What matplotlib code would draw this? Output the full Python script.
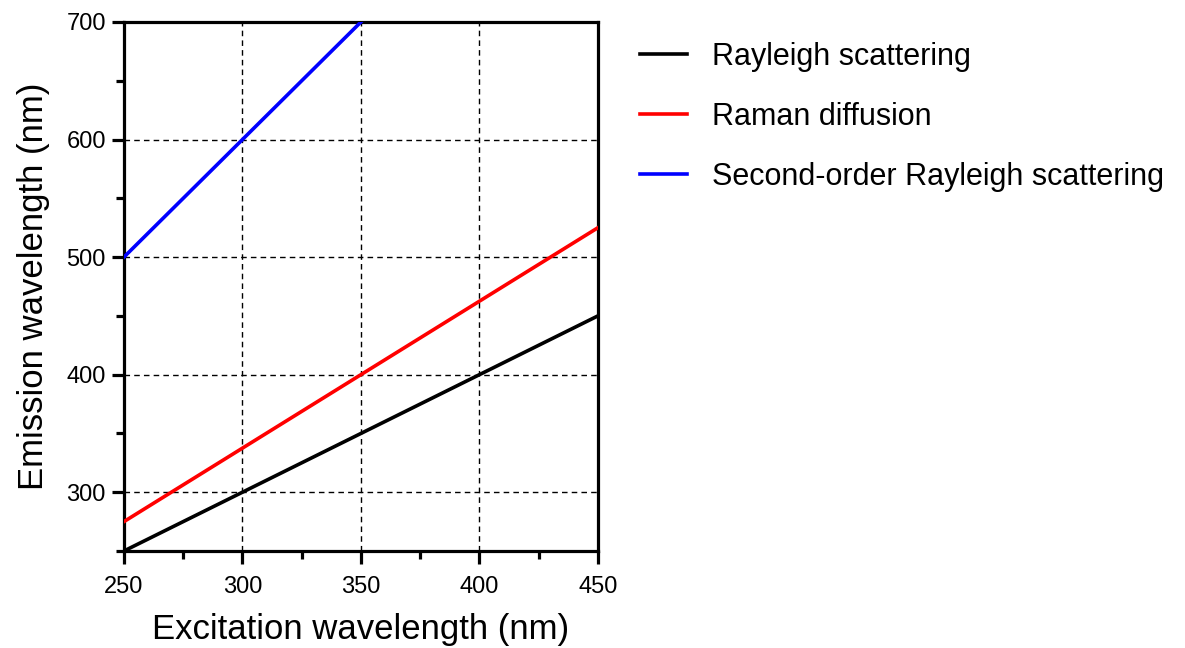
import matplotlib.pyplot as plt
from matplotlib.ticker import MultipleLocator

plt.rcParams['font.family'] = ['Liberation Sans', 'DejaVu Sans']

# excitation range and emission lines
excitation = [250, 450]
rayleigh = [250, 450]
raman = [275, 525]
excitation_2nd = [250, 350]
rayleigh_2nd = [500, 700]

labels = ['Rayleigh scattering', 'Raman diffusion', 'Second-order Rayleigh scattering']
colors = ['black', '#ff0000', '#0000ff']

fig = plt.figure(figsize=(11.85, 6.48), dpi=100)
ax = fig.add_axes([0.1046, 0.1497, 0.40, 0.8164])

ax.plot(excitation, rayleigh, color=colors[0], lw=2.6, label=labels[0], zorder=3)
ax.plot(excitation, raman, color=colors[1], lw=2.6, label=labels[1], zorder=3)
ax.plot(excitation_2nd, rayleigh_2nd, color=colors[2], lw=2.6, label=labels[2], zorder=3)

ax.set_xlim(250, 450)
ax.set_ylim(250, 700)
ax.xaxis.set_major_locator(MultipleLocator(50))
ax.xaxis.set_minor_locator(MultipleLocator(25))
ax.yaxis.set_minor_locator(MultipleLocator(50))
ax.set_yticks([300, 400, 500, 600, 700])

ax.grid(True, which='major', color='black', linestyle=(0, (4, 3)), linewidth=1.0)
for s in ax.spines.values():
    s.set_linewidth(2.3)
ax.tick_params(which='major', direction='out', length=9, width=2.3, labelsize=17)
ax.tick_params(which='minor', direction='out', length=6, width=2.3)
ax.tick_params(axis='x', pad=9)
ax.tick_params(axis='y', pad=4)

ax.set_xlabel('Excitation wavelength (nm)', fontsize=25, labelpad=11)
ax.set_ylabel('Emission wavelength (nm)', fontsize=25, labelpad=12)

fig.legend(*ax.get_legend_handles_labels(), loc='upper left', bbox_to_anchor=(0.540, 0.935),
           frameon=False, fontsize=22, borderpad=0, borderaxespad=0,
           handlelength=1.55, handletextpad=0.8, labelspacing=0.98)

plt.savefig('out.png', dpi=100)
